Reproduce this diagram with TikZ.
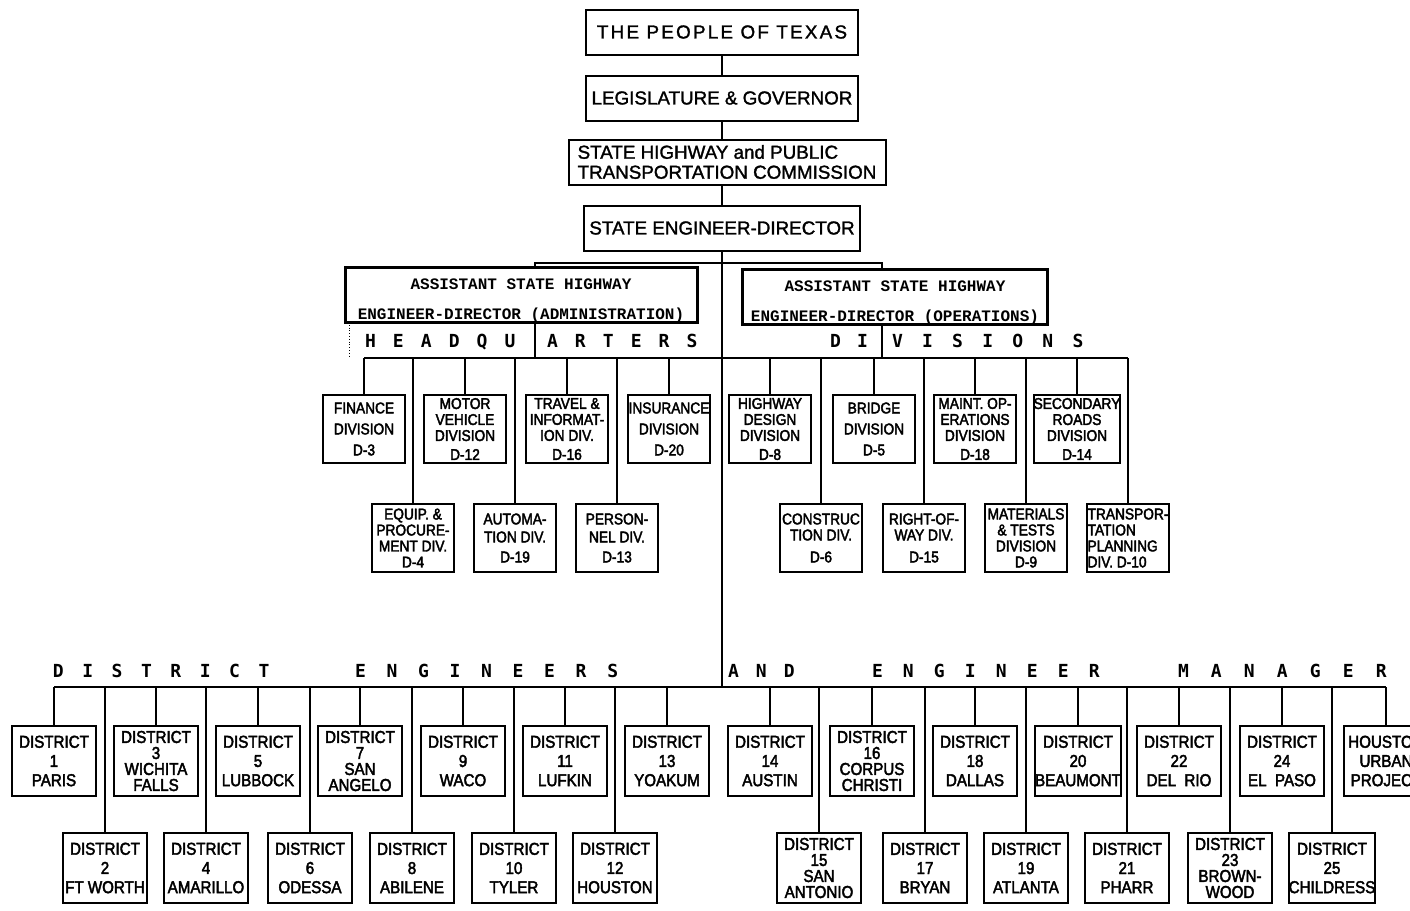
\documentclass[tikz,border=0pt]{standalone}
\usepackage{fontspec}
\usepackage{tikz}
\usepackage{xcolor}
\usetikzlibrary{positioning}
\setmainfont{Liberation Sans}[FakeBold=1.5]
\newfontfamily\narrowfont{Liberation Sans}[FakeStretch=0.88, FakeBold=2.5]
\newfontfamily\typefont{Liberation Mono}
\newfontfamily\headfont{DejaVu Sans Mono}
\pgfdeclarelayer{background}
\pgfsetlayers{background,main}

\tikzset{
  topbox/.style={draw, line width=1pt, fill=white, inner sep=0pt, minimum width=136pt, minimum height=22.5pt, font=\fontsize{9.4}{10}\selectfont},
  asstbox/.style={draw, line width=1.5pt, fill=white, inner sep=0pt, minimum height=27pt, align=center, font=\typefont\bfseries\fontsize{8}{15}\selectfont},
  divbox/.style={draw, line width=1pt, fill=white, inner sep=0pt, minimum width=41pt, minimum height=34pt, align=center, font=\narrowfont\fontsize{7.8}{8}\selectfont},
  distbox/.style={draw, line width=1pt, fill=white, inner sep=0pt, minimum width=42pt, minimum height=35pt, align=center, font=\narrowfont\fontsize{8.6}{9.6}\selectfont},
  crowded/.style={font=\narrowfont\fontsize{8.6}{8}\selectfont},
  link/.style={line width=0.8pt},
  spaced/.style={anchor=base west, inner sep=0pt, font=\headfont\bfseries\fontsize{9}{9}\selectfont\addfontfeatures{LetterSpace=#1}},
}

\begin{document}
\begin{tikzpicture}[x=0.5pt, y=-0.5pt]
\useasboundingbox (0,0) rectangle (1410,911);

% top of the chart
\node[topbox, font=\fontsize{9.4}{10}\selectfont\addfontfeatures{LetterSpace=12}] (people) at (722,32) {THE PEOPLE OF TEXAS};
\node[topbox] (legis) at (722,98) {LEGISLATURE \& GOVERNOR};
\node[topbox, minimum width=158.5pt, align=left] (commission) at (727,162) {STATE HIGHWAY and PUBLIC\\TRANSPORTATION COMMISSION};
\node[topbox, minimum width=138pt] (director) at (722,228) {STATE ENGINEER-DIRECTOR};

\node[asstbox, minimum width=176pt] (admin) at (521,295) {\rule{0pt}{11pt}ASSISTANT STATE HIGHWAY\\ENGINEER-DIRECTOR (ADMINISTRATION)};
\node[asstbox, minimum width=152.5pt] (oper) at (895,297) {\rule{0pt}{11pt}ASSISTANT STATE HIGHWAY\\ENGINEER-DIRECTOR (OPERATIONS)};

\coordinate (hqbus) at (0,358);
\coordinate (distbus) at (0,687);
\coordinate (bl) at (535,263);
\coordinate (br) at (882,263);
\coordinate (hqedge) at (349,322);

% headquarters and divisions headings
\node[spaced=95] (hq1) at (364.6,347) {HEADQU};
\node[spaced=95] (hq2) at (546.6,347) {ARTERS};
\node[spaced=90] (dv1) at (829.6,347) {DI};
\node[spaced=107] (dv2) at (891.6,347) {VISIONS};

% headquarters divisions
\node[divbox] (fin) at (364,429) {FINANCE\\[2.5pt]DIVISION\\[2.5pt]D-3};
\node[divbox] (motor) at (465,429) {MOTOR\\VEHICLE\\DIVISION\\[1.5pt]D-12};
\node[divbox] (travel) at (567,429) {TRAVEL \&\\INFORMAT-\\ION DIV.\\[1.5pt]D-16};
\node[divbox] (insur) at (669,429) {INSURANCE\\[2.5pt]DIVISION\\[2.5pt]D-20};
\node[divbox] (equip) at (413,538) {EQUIP. \&\\PROCURE-\\MENT DIV.\\D-4};
\node[divbox] (autom) at (515,538) {AUTOMA-\\[1pt]TION DIV.\\[2pt]D-19};
\node[divbox] (person) at (617,538) {PERSON-\\[1pt]NEL DIV.\\[2pt]D-13};

% operations divisions
\node[divbox] (hwydes) at (770,429) {HIGHWAY\\DESIGN\\DIVISION\\[1.5pt]D-8};
\node[divbox] (bridge) at (874,429) {BRIDGE\\[2.5pt]DIVISION\\[2.5pt]D-5};
\node[divbox] (maint) at (975,429) {MAINT. OP-\\ERATIONS\\DIVISION\\[1.5pt]D-18};
\node[divbox] (second) at (1077,429) {SECONDARY\\ROADS\\DIVISION\\[1.5pt]D-14};
\node[divbox] (constr) at (821,538) {CONSTRUC\\TION DIV.\\[3pt]D-6};
\node[divbox] (rightway) at (924,538) {RIGHT-OF-\\WAY DIV.\\[3pt]D-15};
\node[divbox] (mater) at (1026,538) {MATERIALS\\\& TESTS\\DIVISION\\D-9};
\node[divbox, align=left] (transp) at (1128,538) {TRANSPOR-\\TATION\\PLANNING\\DIV. D-10};

% district headings
\node[spaced=103] (de1) at (52.6,677) {DISTRICT};
\node[spaced=115] (de2) at (354.6,677) {ENGINEERS};
\node[spaced=95] (de3) at (727.6,677) {AND};
\node[spaced=112] (de4) at (871.6,677) {ENGINEER};
\node[spaced=123] (de5) at (1177.6,677) {MANAGER};

% districts, upper row
\node[distbox] (d1) at (54,761) {DISTRICT\\1\\PARIS};
\node[distbox, crowded] (d3) at (156,761) {DISTRICT\\3\\WICHITA\\FALLS};
\node[distbox] (d5) at (258,761) {DISTRICT\\5\\LUBBOCK};
\node[distbox, crowded] (d7) at (360,761) {DISTRICT\\7\\SAN\\ANGELO};
\node[distbox] (d9) at (463,761) {DISTRICT\\9\\WACO};
\node[distbox] (d11) at (565,761) {DISTRICT\\11\\LUFKIN};
\node[distbox] (d13) at (667,761) {DISTRICT\\13\\YOAKUM};
\node[distbox] (d14) at (770,761) {DISTRICT\\14\\AUSTIN};
\node[distbox, crowded] (d16) at (872,761) {DISTRICT\\16\\CORPUS\\CHRISTI};
\node[distbox] (d18) at (975,761) {DISTRICT\\18\\DALLAS};
\node[distbox] (d20) at (1078,761) {DISTRICT\\20\\BEAUMONT};
\node[distbox] (d22) at (1179,761) {DISTRICT\\22\\DEL\ \ RIO};
\node[distbox] (d24) at (1282,761) {DISTRICT\\24\\EL\ \ PASO};
\node[distbox] (houston) at (1386,761) {HOUSTON\\URBAN\\PROJECT};

% districts, lower row
\node[distbox] (d2) at (105,868) {DISTRICT\\2\\FT WORTH};
\node[distbox] (d4) at (206,868) {DISTRICT\\4\\AMARILLO};
\node[distbox] (d6) at (310,868) {DISTRICT\\6\\ODESSA};
\node[distbox] (d8) at (412,868) {DISTRICT\\8\\ABILENE};
\node[distbox] (d10) at (514,868) {DISTRICT\\10\\TYLER};
\node[distbox] (d12) at (615,868) {DISTRICT\\12\\HOUSTON};
\node[distbox, crowded] (d15) at (819,868) {DISTRICT\\15\\SAN\\ANTONIO};
\node[distbox] (d17) at (925,868) {DISTRICT\\17\\BRYAN};
\node[distbox] (d19) at (1026,868) {DISTRICT\\19\\ATLANTA};
\node[distbox] (d21) at (1127,868) {DISTRICT\\21\\PHARR};
\node[distbox, crowded] (d23) at (1230,868) {DISTRICT\\23\\BROWN-\\WOOD};
\node[distbox] (d25) at (1332,868) {DISTRICT\\25\\CHILDRESS};

\begin{pgfonlayer}{background}
    % main line down
    \draw[link] (people) -- (legis);
    \draw[link] (legis.south) -- (legis.south |- commission.north);
    \draw[link] (director.north |- commission.south) -- (director.north);
    \draw[link] (director.south) -- (director.south |- distbus);
    % assistants
    \draw[link, line width=1.2pt] (bl |- hqbus) -- (bl) -- (br) -- (br |- hqbus);
    \draw[densely dotted] (hqedge) -- (hqedge |- hqbus);
    % headquarters bus and drops
    \draw[link] (fin.north |- hqbus) -- (transp.north |- hqbus);
    \draw[link] (fin.north) -- (fin.north |- hqbus)
                (motor.north) -- (motor.north |- hqbus)
                (travel.north) -- (travel.north |- hqbus)
                (insur.north) -- (insur.north |- hqbus)
                (equip.north) -- (equip.north |- hqbus)
                (autom.north) -- (autom.north |- hqbus)
                (person.north) -- (person.north |- hqbus)
                (hwydes.north) -- (hwydes.north |- hqbus)
                (bridge.north) -- (bridge.north |- hqbus)
                (maint.north) -- (maint.north |- hqbus)
                (second.north) -- (second.north |- hqbus)
                (constr.north) -- (constr.north |- hqbus)
                (rightway.north) -- (rightway.north |- hqbus)
                (mater.north) -- (mater.north |- hqbus)
                (transp.north) -- (transp.north |- hqbus);
    % district bus and drops
    \draw[link] (d1.north |- distbus) -- (houston.north |- distbus);
    \draw[link] (d1.north) -- (d1.north |- distbus)
                (d2.north) -- (d2.north |- distbus)
                (d3.north) -- (d3.north |- distbus)
                (d4.north) -- (d4.north |- distbus)
                (d5.north) -- (d5.north |- distbus)
                (d6.north) -- (d6.north |- distbus)
                (d7.north) -- (d7.north |- distbus)
                (d8.north) -- (d8.north |- distbus)
                (d9.north) -- (d9.north |- distbus)
                (d10.north) -- (d10.north |- distbus)
                (d11.north) -- (d11.north |- distbus)
                (d12.north) -- (d12.north |- distbus)
                (d13.north) -- (d13.north |- distbus)
                (d14.north) -- (d14.north |- distbus)
                (d15.north) -- (d15.north |- distbus)
                (d16.north) -- (d16.north |- distbus)
                (d17.north) -- (d17.north |- distbus)
                (d18.north) -- (d18.north |- distbus)
                (d19.north) -- (d19.north |- distbus)
                (d20.north) -- (d20.north |- distbus)
                (d21.north) -- (d21.north |- distbus)
                (d22.north) -- (d22.north |- distbus)
                (d23.north) -- (d23.north |- distbus)
                (d24.north) -- (d24.north |- distbus)
                (d25.north) -- (d25.north |- distbus)
                (houston.north) -- (houston.north |- distbus);
\end{pgfonlayer}

\end{tikzpicture}
\end{document}
